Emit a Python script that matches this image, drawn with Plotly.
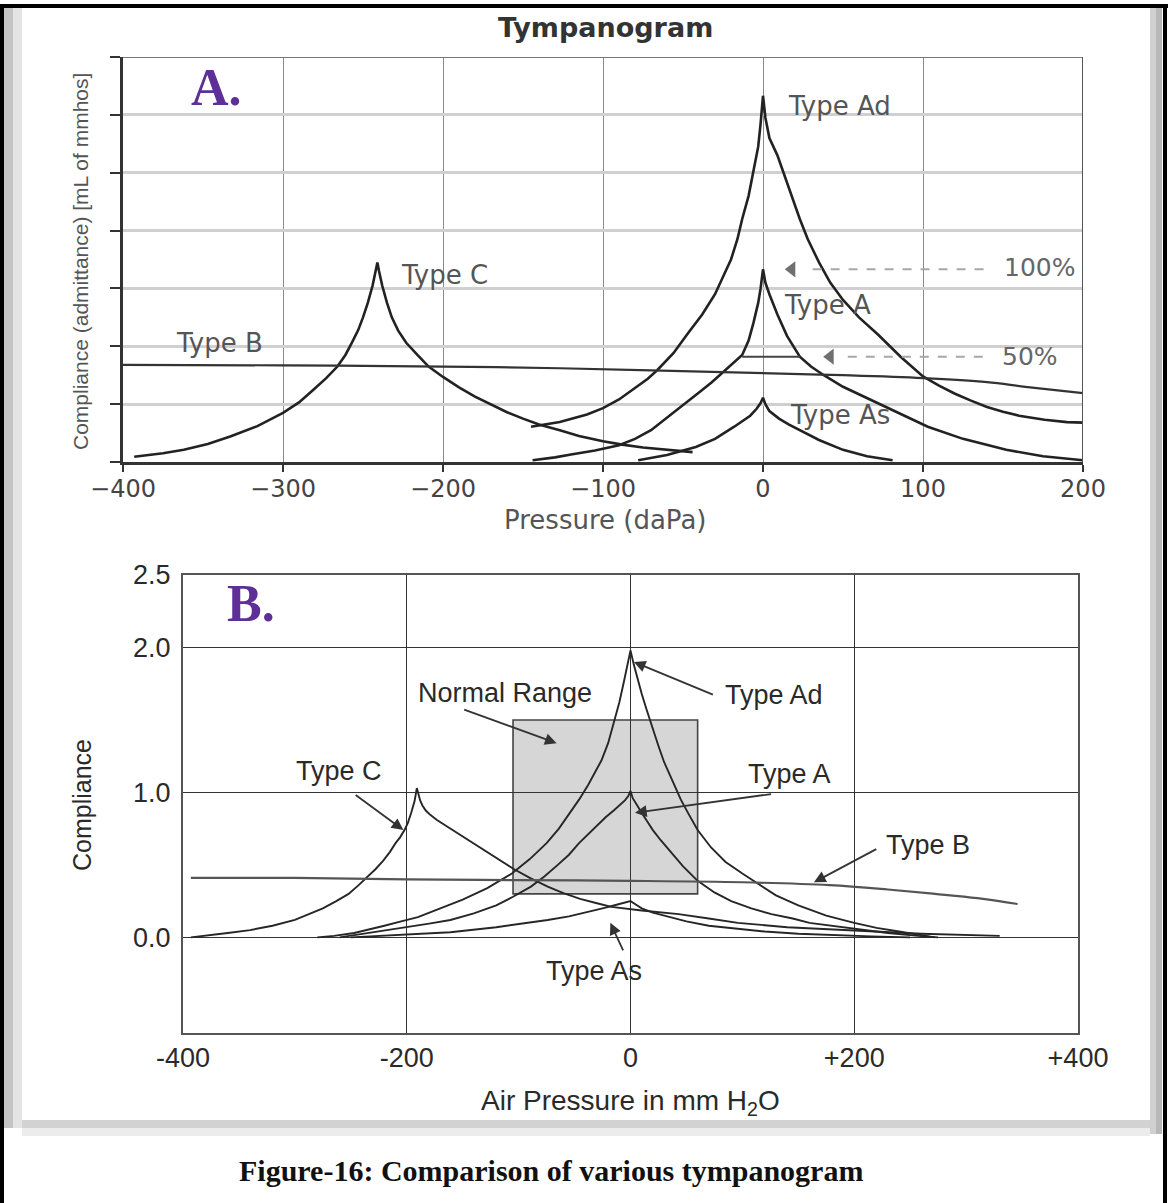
import plotly.graph_objects as go

W, H = 1168, 1203

# ---------------- Panel A data (pressure in daPa, compliance in grid units) ----------------
a_xticks = [-400, -300, -200, -100, 0, 100, 200]
a_xticktext = ["\u2212400", "\u2212300", "\u2212200", "\u2212100", "0", "100", "200"]
a_yticks = [0, 1, 2, 3, 4, 5, 6, 7]

a_typeC_x = [-393, -375, -362, -347, -333, -316, -300, -290, -281, -273, -266, -261, -257, -253,
             -250, -247, -244, -242, -241, -240, -238, -235, -232, -228, -223, -216, -209, -200,
             -190, -180, -170, -160, -150, -140, -127, -115, -100, -88, -75, -60, -44]
a_typeC_y = [0.09, 0.15, 0.21, 0.31, 0.44, 0.62, 0.85, 1.03, 1.25, 1.45, 1.65, 1.85, 2.06, 2.28,
             2.5, 2.75, 3.05, 3.3, 3.45, 3.3, 3.05, 2.75, 2.5, 2.27, 2.06, 1.85, 1.65, 1.47,
             1.29, 1.13, 0.99, 0.86, 0.75, 0.65, 0.55, 0.45, 0.36, 0.3, 0.25, 0.21, 0.17]

a_typeAd_x = [-145, -127, -110, -100, -90, -80, -72, -66, -56, -47, -38, -30, -24, -20, -16, -13,
              -9, -6, -3, -1.5, 0, 1.5, 4, 9, 14, 18, 23, 28, 35, 42, 50, 60, 72, 86, 100, 110,
              120, 130, 140, 150, 160, 176, 190, 200]
a_typeAd_y = [0.61, 0.69, 0.82, 0.93, 1.08, 1.28, 1.44, 1.59, 1.88, 2.22, 2.55, 2.9, 3.25, 3.5,
              3.85, 4.2, 4.6, 5.0, 5.45, 5.85, 6.33, 5.95, 5.6, 5.3, 4.9, 4.6, 4.2, 3.85, 3.45,
              3.1, 2.8, 2.5, 2.2, 1.82, 1.48, 1.32, 1.18, 1.06, 0.95, 0.87, 0.8, 0.73, 0.69, 0.68]

a_typeA_x = [-144, -130, -120, -105, -90, -80, -70, -62, -54, -47, -40, -32, -25, -18, -13, -9,
             -6, -3, -1.5, 0, 1.5, 4, 9, 15, 23, 30, 38, 50, 67, 85, 103, 125, 140, 152, 175, 200]
a_typeA_y = [0.03, 0.08, 0.13, 0.2, 0.29, 0.4, 0.55, 0.72, 0.9, 1.05, 1.2, 1.38, 1.55, 1.72,
             1.85, 2.1, 2.4, 2.75, 3.0, 3.33, 3.1, 2.9, 2.55, 2.18, 1.82, 1.65, 1.5, 1.3, 1.08,
             0.85, 0.61, 0.4, 0.29, 0.21, 0.1, 0.03]

a_typeAs_x = [-78, -60, -42, -30, -18, -12, -8, -4, -1.5, 0, 1.5, 4, 10, 16, 23, 35, 50, 65, 81]
a_typeAs_y = [0.03, 0.12, 0.26, 0.4, 0.61, 0.72, 0.8, 0.92, 1.02, 1.11, 1.0, 0.88, 0.75, 0.65,
              0.55, 0.38, 0.21, 0.1, 0.03]

a_typeB_x = [-400, -300, -200, -127, -6, 50, 100, 140, 164, 200]
a_typeB_y = [1.68, 1.67, 1.65, 1.62, 1.54, 1.5, 1.45, 1.38, 1.3, 1.19]

a_full_level = 3.33   # 100 % marker (Type A peak)
a_half_level = 1.82   # 50 % marker
a_half_span = [-13, 23]
a_marker_tips = [18, 42]      # arrow-head positions of the 100% / 50% leaders
a_marker_levels = [a_full_level, a_half_level]

# ---------------- Panel B data (air pressure mm H2O, compliance) ----------------
b_xticks = [-400, -200, 0, 200, 400]
b_xticktext = ["-400", "-200", "0", "+200", "+400"]
b_yticks = [0.0, 1.0, 2.0, 2.5]
b_yticktext = ["0.0", "1.0", "2.0", "2.5"]

b_typeC_x = [-393, -381, -360, -340, -320, -300, -287, -275, -263, -252, -243, -235, -228, -221,
             -215, -210, -206, -202, -199, -196, -193, -191, -189.5, -188, -186, -183, -179, -173,
             -165, -155, -147, -136, -125, -115, -104, -90, -74, -60, -45, -30, -17, 10, 43, 70,
             96, 140, 188, 260, 330]
b_typeC_y = [0.0, 0.01, 0.03, 0.05, 0.08, 0.12, 0.16, 0.2, 0.25, 0.3, 0.36, 0.42, 0.47, 0.53,
             0.59, 0.65, 0.69, 0.74, 0.79, 0.86, 0.94, 1.03, 0.98, 0.945, 0.91, 0.875, 0.845,
             0.81, 0.77, 0.72, 0.685, 0.63, 0.575, 0.525, 0.47, 0.41, 0.35, 0.305, 0.265, 0.235,
             0.21, 0.185, 0.16, 0.13, 0.1, 0.07, 0.05, 0.025, 0.01]

b_typeAd_x = [-280, -265, -247, -235, -220, -205, -190, -170, -150, -128, -106, -90, -75, -64,
              -54, -46, -38, -32, -26, -20, -14, -10, -6, -3, 0, 3, 6, 10, 14, 18, 25, 30, 35,
              45, 52, 60, 72, 85, 100, 114, 130, 150, 175, 200, 220, 240, 255, 272]
b_typeAd_y = [0.0, 0.01, 0.03, 0.05, 0.08, 0.11, 0.14, 0.2, 0.26, 0.34, 0.44, 0.54, 0.65, 0.75,
              0.86, 0.95, 1.05, 1.13, 1.22, 1.34, 1.5, 1.62, 1.76, 1.88, 1.98, 1.88, 1.79, 1.68,
              1.58, 1.48, 1.32, 1.21, 1.12, 0.95, 0.85, 0.74, 0.62, 0.52, 0.44, 0.37, 0.29, 0.22,
              0.15, 0.1, 0.065, 0.04, 0.02, 0.0]

b_typeA_x = [-260, -234, -200, -180, -161, -140, -120, -105, -89, -77, -65, -55, -46, -38, -30,
             -22, -15, -10, -5, -2, 0, 2, 5, 10, 15, 20, 27, 35, 47, 60, 75, 90, 108, 126, 145,
             160, 180, 200, 230, 257, 275]
b_typeA_y = [0.0, 0.03, 0.07, 0.095, 0.12, 0.165, 0.22, 0.28, 0.35, 0.42, 0.5, 0.57, 0.65, 0.71,
             0.77, 0.83, 0.875, 0.91, 0.945, 0.975, 1.01, 0.96, 0.92, 0.86, 0.8, 0.74, 0.67, 0.6,
             0.49, 0.39, 0.31, 0.25, 0.2, 0.16, 0.13, 0.1, 0.08, 0.06, 0.03, 0.01, 0.0]

b_typeAs_x = [-250, -200, -161, -120, -95, -74, -55, -40, -25, -15, -6, 0, 4, 10, 20, 34, 50,
              70, 95, 120, 150, 180, 215, 250]
b_typeAs_y = [0.0, 0.02, 0.035, 0.07, 0.095, 0.12, 0.145, 0.17, 0.2, 0.22, 0.235, 0.25, 0.23,
              0.2, 0.17, 0.14, 0.11, 0.08, 0.06, 0.04, 0.025, 0.015, 0.007, 0.0]

b_typeB_x = [-393, -300, -200, -100, 0, 100, 178, 230, 272, 310, 346]
b_typeB_y = [0.41, 0.41, 0.40, 0.395, 0.39, 0.38, 0.36, 0.33, 0.30, 0.27, 0.23]

b_normal_x = [-105, 60]
b_normal_y = [0.3, 1.5]

# ---------------- helpers ----------------
def px(x):
    return x / W


def py(y):
    return 1 - y / H


fig = go.Figure()


def add_curve(xs, ys, xa, ya, color, width, shape="linear"):
    fig.add_trace(go.Scatter(x=xs, y=ys, xaxis=xa, yaxis=ya, mode="lines",
                             line=dict(color=color, width=width, shape=shape),
                             showlegend=False, hoverinfo="skip"))


A_COL = "#222222"
for xs, ys in ((a_typeC_x, a_typeC_y), (a_typeAd_x, a_typeAd_y), (a_typeA_x, a_typeA_y),
               (a_typeAs_x, a_typeAs_y)):
    add_curve(xs, ys, "x", "y", A_COL, 2.6)
add_curve(a_typeB_x, a_typeB_y, "x", "y", "#333333", 2.2, "spline")
# 50% width segment
add_curve(a_half_span, [a_half_level, a_half_level], "x", "y", "#444444", 2)
# arrow heads of the 100% / 50% leaders
fig.add_trace(go.Scatter(x=a_marker_tips, y=a_marker_levels, xaxis="x", yaxis="y",
                         mode="markers",
                         marker=dict(symbol="triangle-left", size=[14, 14], color="#333333",
                                     line=dict(width=0)),
                         showlegend=False, hoverinfo="skip"))

B_COL = "#262626"
for xs, ys in ((b_typeC_x, b_typeC_y), (b_typeAd_x, b_typeAd_y), (b_typeA_x, b_typeA_y),
               (b_typeAs_x, b_typeAs_y)):
    add_curve(xs, ys, "x2", "y2", B_COL, 1.9)
add_curve(b_typeB_x, b_typeB_y, "x2", "y2", "#555555", 2.2, "spline")

shapes = []
# page frame: black border and grey drop shadow
shapes += [
    dict(type="rect", xref="paper", yref="paper", x0=px(4), x1=px(13), y0=py(1128), y1=py(8),
         fillcolor="#c4c4c4", line_width=0, layer="below"),
    dict(type="rect", xref="paper", yref="paper", x0=px(13), x1=px(22), y0=py(1128), y1=py(8),
         fillcolor="#e4e4e4", line_width=0, layer="below"),
    dict(type="rect", xref="paper", yref="paper", x0=px(1150), x1=px(1156), y0=py(1134), y1=py(8),
         fillcolor="#d0d0d0", line_width=0, layer="below"),
    dict(type="rect", xref="paper", yref="paper", x0=px(1156), x1=px(1162), y0=py(1134), y1=py(8),
         fillcolor="#b8b8b8", line_width=0, layer="below"),
    dict(type="rect", xref="paper", yref="paper", x0=px(22), x1=px(1150), y0=py(1128), y1=py(1120),
         fillcolor="#d2d2d2", line_width=0, layer="below"),
    dict(type="rect", xref="paper", yref="paper", x0=px(22), x1=px(1150), y0=py(1136), y1=py(1128),
         fillcolor="#ececec", line_width=0, layer="below"),
    dict(type="rect", xref="paper", yref="paper", x0=px(0), x1=px(4), y0=0, y1=py(4),
         fillcolor="#000000", line_width=0),
    dict(type="rect", xref="paper", yref="paper", x0=0, x1=1, y0=py(8), y1=py(4),
         fillcolor="#000000", line_width=0),
    dict(type="rect", xref="paper", yref="paper", x0=px(1163), x1=px(1167), y0=0, y1=py(4),
         fillcolor="#000000", line_width=0),
]
# panel A top / right border
shapes += [
    dict(type="line", xref="x", yref="y", x0=-400, x1=200, y0=7, y1=7,
         line=dict(color="#777777", width=2)),
    dict(type="line", xref="x", yref="y", x0=200, x1=200, y0=0, y1=7,
         line=dict(color="#555555", width=2)),
]
# 100% / 50% dashed leaders
shapes += [
    dict(type="line", xref="x", yref="y", x0=31, x1=142, y0=a_full_level, y1=a_full_level,
         line=dict(color="#a8a8a8", width=2, dash="dash")),
    dict(type="line", xref="x", yref="y", x0=53, x1=142, y0=a_half_level, y1=a_half_level,
         line=dict(color="#a8a8a8", width=2, dash="dash")),
]
# Normal range box
shapes.append(dict(type="rect", xref="x2", yref="y2", x0=b_normal_x[0], x1=b_normal_x[1],
                   y0=b_normal_y[0], y1=b_normal_y[1], fillcolor="#d6d6d6",
                   line=dict(color="#444444", width=1.6), layer="below"))

ann = []
A_FONT = "DejaVu Sans"
B_FONT = "Liberation Sans, Arial"
A_TXT = "#555555"


def atext(x, y, t, size=26, color=A_TXT, xref="x", yref="y", font=A_FONT, **kw):
    d = dict(x=x, y=y, xref=xref, yref=yref, text=t, showarrow=False,
             xanchor="center", yanchor="middle",
             font=dict(family=font, size=size, color=color))
    d.update(kw)
    ann.append(d)


def arrow(x, y, ax, ay, xref, yref, color="#333333", width=1.8, head=2, size=1.3):
    ann.append(dict(x=x, y=y, ax=ax, ay=ay, xref=xref, yref=yref, axref=xref, ayref=yref,
                    text="", showarrow=True, arrowhead=head, arrowsize=size,
                    arrowwidth=width, arrowcolor=color))


# panel A labels
atext(48, 6.15, "Type Ad")
atext(-199, 3.24, "Type C")
atext(-340, 2.06, "Type B")
atext(40, 2.72, "Type A")
atext(48, 0.81, "Type As")
atext(173, 3.36, "100%", size=25, color="#666666")
atext(167, 1.82, "50%", size=25, color="#666666")

atext(px(605), py(28), "<b>Tympanogram</b>", size=27, color="#333333", xref="paper", yref="paper")
atext(px(216), py(88), "<b>A.</b>", size=52, color="#5e2f96", xref="paper", yref="paper",
      font="Liberation Serif, DejaVu Serif")
atext(px(80), py(262), "Compliance (admittance) [mL of mmhos]", size=21, color="#555555",
      xref="paper", yref="paper", font="Liberation Sans Narrow, Liberation Sans", textangle=-90)
atext(px(605), py(520), "Pressure (daPa)", size=26, color="#555555", xref="paper", yref="paper")

# panel B labels
B_TXT = "#2a2a2a"
BS = 27
atext(-112, 1.685, "Normal Range", size=BS, color=B_TXT, font=B_FONT, xref="x2", yref="y2")
arrow(-66, 1.34, -150, 1.575, "x2", "y2")
atext(128, 1.67, "Type Ad", size=BS, color=B_TXT, font=B_FONT, xref="x2", yref="y2")
arrow(3, 1.9, 75, 1.67, "x2", "y2")
atext(142, 1.13, "Type A", size=BS, color=B_TXT, font=B_FONT, xref="x2", yref="y2")
arrow(4, 0.86, 127, 0.99, "x2", "y2")
atext(266, 0.635, "Type B", size=BS, color=B_TXT, font=B_FONT, xref="x2", yref="y2")
arrow(164, 0.38, 221, 0.614, "x2", "y2")
atext(-261, 1.15, "Type C", size=BS, color=B_TXT, font=B_FONT, xref="x2", yref="y2")
arrow(-203, 0.74, -247, 0.99, "x2", "y2")
atext(-33, -0.23, "Type As", size=BS, color=B_TXT, font=B_FONT, xref="x2", yref="y2")
arrow(-18, 0.1, -6, -0.1, "x2", "y2")

atext(px(251), py(603), "<b>B.</b>", size=52, color="#5e2f96", xref="paper", yref="paper",
      font="Liberation Serif, DejaVu Serif")
atext(px(82), py(805), "Compliance", size=25, color=B_TXT, xref="paper", yref="paper",
      font=B_FONT, textangle=-90)
atext(px(630), py(1102), "Air Pressure in mm H<sub>2</sub>O", size=28, color=B_TXT,
      xref="paper", yref="paper", font=B_FONT)

# caption
atext(px(551), py(1170), "<b>Figure-16: Comparison of various tympanogram</b>", size=30,
      color="#111111", xref="paper", yref="paper", font="Liberation Serif, Times New Roman")

fig.update_layout(
    width=W, height=H, autosize=False,
    margin=dict(l=0, r=0, t=0, b=0, pad=0, autoexpand=False),
    paper_bgcolor="white", plot_bgcolor="white",
    shapes=shapes, annotations=ann, showlegend=False,
    xaxis=dict(domain=[px(123), px(1083)], range=[-400, 200], anchor="y", automargin=False,
               tickmode="array", tickvals=a_xticks, ticktext=a_xticktext,
               showgrid=True, gridcolor="#8a8a8a", gridwidth=1.2, zeroline=False,
               showline=True, linecolor="#333333", linewidth=2.6,
               ticks="outside", ticklen=7, tickwidth=2, tickcolor="#333333",
               ticklabelstandoff=-4,
               tickfont=dict(family=A_FONT, size=24, color="#444444"), fixedrange=True),
    yaxis=dict(domain=[py(462), py(57)], range=[0, 7], anchor="x", automargin=False,
               tickmode="array", tickvals=a_yticks, showticklabels=False,
               showgrid=True, gridcolor="#d0d0d0", gridwidth=2.6, zeroline=False,
               showline=True, linecolor="#333333", linewidth=2.6,
               ticks="outside", ticklen=10, tickwidth=2, tickcolor="#333333", fixedrange=True),
    xaxis2=dict(domain=[px(183), px(1078)], range=[-400, 400], anchor="y2", automargin=False,
                tickmode="array", tickvals=b_xticks, ticktext=b_xticktext,
                showgrid=True, gridcolor="#333333", gridwidth=1.4, zeroline=False,
                showline=True, mirror=True, linecolor="#555555", linewidth=2,
                ticks="", ticklabelstandoff=0,
                tickfont=dict(family=B_FONT, size=BS, color=B_TXT), fixedrange=True),
    yaxis2=dict(domain=[py(1033), py(575)], range=[-0.66, 2.5], anchor="x2", automargin=False,
                tickmode="array", tickvals=b_yticks, ticktext=b_yticktext,
                showgrid=True, gridcolor="#333333", gridwidth=1.4, zeroline=False,
                showline=True, mirror=True, linecolor="#555555", linewidth=2,
                ticks="", ticklabelstandoff=5,
                tickfont=dict(family=B_FONT, size=BS, color=B_TXT), fixedrange=True),
)

fig.write_html("out.html", config={"displayModeBar": False},
               post_script="document.body.style.margin='0';")
